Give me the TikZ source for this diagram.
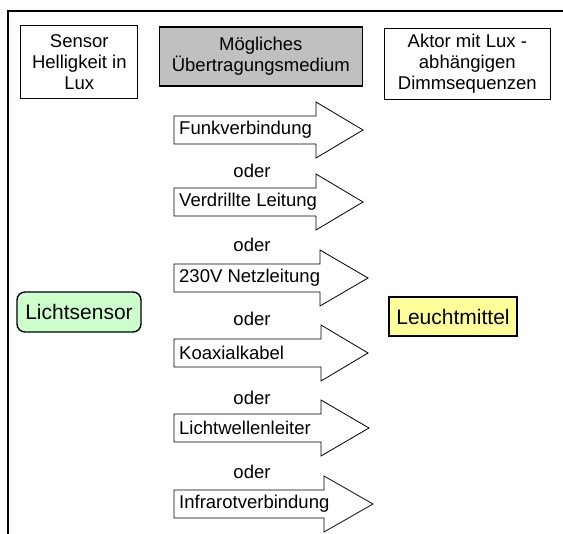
\documentclass[tikz,border=0pt]{standalone}
\usepackage{fontspec}
\setmainfont{Liberation Sans}
\usepackage{tikz}

\definecolor{boxgray}{HTML}{C0C0C0}
\definecolor{sensorgreen}{HTML}{CCFFCC}
\definecolor{lampyellow}{HTML}{FFFF99}

\begin{document}
\begin{tikzpicture}[x=1pt, y=-1pt, font=\fontsize{18.5}{20.8}\selectfont,
    headbox/.style={draw, line width=1.1pt, align=center, inner sep=0pt},
    medium/.style={draw, fill=white, line width=0.8pt, line join=miter},
    mtext/.style={anchor=west, inner xsep=5pt, inner ysep=0pt},
    partbox/.style={draw, line width=1.4pt, inner sep=0pt, font=\fontsize{21}{24}\selectfont}]
  \useasboundingbox (0,0) rectangle (563,534);
  \draw[line width=2.5pt] (8,545) -- (8,11) -- (575,11);
  % header boxes
  \node[headbox, minimum width=117pt, minimum height=73pt] (sensor) at (79.3,62.3) {Sensor\\Helligkeit in\\Lux};
  \node[headbox, fill=boxgray, line width=1.6pt, minimum width=203pt, minimum height=59pt] (medium) at (260.8,56.5) {Mögliches\\Übertragungsmedium};
  \node[headbox, minimum width=166pt, minimum height=71pt] (aktor) at (467.3,63.7) {Aktor mit Lux -\\abhängigen\\Dimmsequenzen};
  % sensor and lamp
  \node[partbox, fill=sensorgreen, rounded corners=8pt, minimum width=124pt, minimum height=40pt] (licht) at (79,312) {Lichtsensor};
  \node[partbox, fill=lampyellow, minimum width=128pt, minimum height=39pt] (lampe) at (453,316.5) {Leuchtmittel};
  % arrows
  \draw[medium] (174,116) -- (316,116) -- (316,102) -- (363,130) -- (316,158) -- (316,144) -- (174,144) -- cycle;
  \node[mtext] (funk) at (174,130) {Funkverbindung};
  \node (oder1) at (252,171) {oder};
  \draw[medium] (174,188) -- (316,188) -- (316,174) -- (363,202) -- (316,230) -- (316,216) -- (174,216) -- cycle;
  \node[mtext] (draht) at (174,202) {Verdrillte Leitung};
  \node (oder2) at (252,245) {oder};
  \draw[medium] (174,264) -- (320,264) -- (320,250) -- (368,278) -- (320,306) -- (320,292) -- (174,292) -- cycle;
  \node[mtext] (netz) at (174,278) {230V Netzleitung};
  \node (oder3) at (252,319) {oder};
  \draw[medium] (174,339) -- (321,339) -- (321,325) -- (368,353) -- (321,381) -- (321,367) -- (174,367) -- cycle;
  \node[mtext] (koax) at (174,353) {Koaxialkabel};
  \node (oder4) at (252,398) {oder};
  \draw[medium] (174,414) -- (321,414) -- (321,400) -- (369,428) -- (321,456) -- (321,442) -- (174,442) -- cycle;
  \node[mtext] (lwl) at (174,428) {Lichtwellenleiter};
  \node (oder5) at (252,472) {oder};
  \draw[medium] (174,490) -- (324,490) -- (324,476) -- (373,504) -- (324,532) -- (324,518) -- (174,518) -- cycle;
  \node[mtext] (infrarot) at (174,504) {Infrarotverbindung};
\end{tikzpicture}
\end{document}
